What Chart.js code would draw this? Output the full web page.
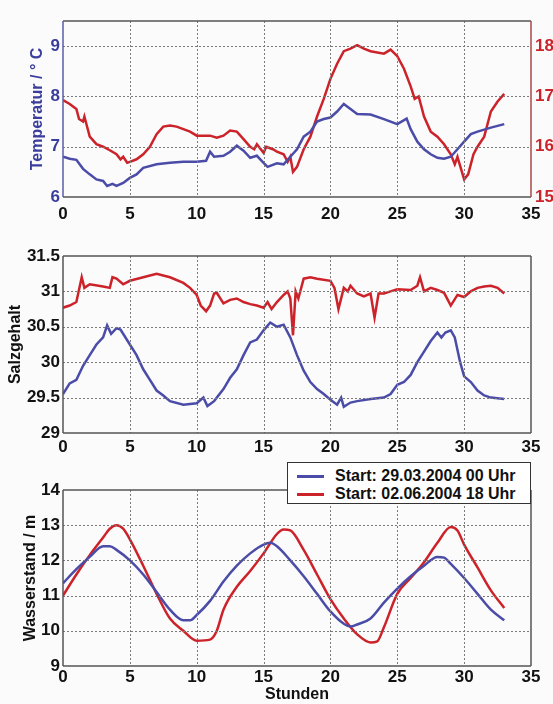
<!DOCTYPE html>
<html>
<head>
<meta charset="utf-8">
<script src="https://cdn.jsdelivr.net/npm/chart.js@4.4.0/dist/chart.umd.min.js"></script>
<style>
  body { margin: 0; background: #fbfbfb; width: 553px; height: 704px; position: relative; overflow: hidden; font-family: "Liberation Sans", Arial, sans-serif; }
  canvas { position: absolute; left: 0; }
  #legend { position: absolute; left: 287px; top: 462px; width: 242px; height: 40px; border: 1px solid #333; background: #fff; font-weight: bold; font-size: 16px; color: #111; }
  #legend .row { position: absolute; left: 0; height: 18px; line-height: 18px; white-space: nowrap; }
  #legend .swatch { position: absolute; left: 9px; top: 8px; width: 27px; height: 2.5px; }
  #legend .txt { position: absolute; left: 47px; top: 0; }
</style>
</head>
<body>
<canvas id="temp" width="553" height="230" style="top:0"></canvas>
<canvas id="salt" width="553" height="220" style="top:240px"></canvas>
<canvas id="water" width="553" height="244" style="top:460px"></canvas>
<div id="legend"></div>
<script>
// series labels
const labels = ["Start: 29.03.2004 00 Uhr", "Start: 02.06.2004 18 Uhr"];
const blue = "#4a4ca8";
const red = "#cc2229";

// tick values
const hourTicks = [0, 5, 10, 15, 20, 25, 30, 35];
const tempTicks = [6, 7, 8, 9];
const tempTicks2 = [15, 16, 17, 18];
const saltTicks = [29, 29.5, 30, 30.5, 31, 31.5];
const waterTicks = [9, 10, 11, 12, 13, 14];

// [hour, value]
const tempBlue = [[0,6.8],[0.5,6.76],[1,6.74],[1.5,6.56],[2,6.45],[2.5,6.35],[3,6.32],[3.3,6.22],[3.7,6.26],[4,6.22],[4.5,6.28],[5,6.38],[5.5,6.45],[6,6.58],[7,6.65],[8,6.68],[9,6.7],[10,6.7],[10.7,6.72],[11,6.9],[11.3,6.8],[12,6.82],[12.5,6.9],[13,7.02],[13.5,6.92],[14,6.78],[14.5,6.82],[15,6.68],[15.3,6.6],[16,6.67],[16.5,6.65],[17,6.8],[17.5,6.95],[18,7.2],[18.5,7.3],[19,7.5],[19.5,7.55],[20,7.58],[20.5,7.7],[21,7.85],[21.5,7.75],[22,7.65],[23,7.64],[24,7.55],[25,7.45],[25.7,7.56],[26,7.35],[26.5,7.1],[27,6.95],[27.5,6.85],[28,6.78],[28.5,6.76],[29,6.8],[29.5,6.95],[30,7.1],[30.5,7.25],[31,7.3],[32,7.38],[33,7.45]];
const tempRed = [[0,16.93],[0.5,16.85],[1,16.75],[1.2,16.55],[1.5,16.5],[1.6,16.6],[2,16.2],[2.5,16.05],[3,16.0],[3.5,15.93],[4,15.85],[4.3,15.75],[4.5,15.8],[4.8,15.68],[5,15.7],[5.5,15.75],[6,15.85],[6.5,16.0],[7,16.25],[7.5,16.4],[8,16.42],[8.5,16.4],[9,16.35],[9.5,16.3],[10,16.22],[11,16.22],[11.5,16.18],[12,16.22],[12.5,16.32],[13,16.3],[13.5,16.15],[14,16.0],[14.3,15.95],[14.5,16.05],[15,15.88],[15.2,16.0],[15.7,15.95],[16,15.9],[16.5,15.85],[16.8,15.7],[17,15.8],[17.2,15.5],[17.5,15.6],[18,15.95],[18.5,16.2],[19,16.6],[19.5,16.95],[20,17.35],[20.5,17.65],[21,17.9],[21.5,17.95],[22,18.02],[22.5,17.95],[23,17.9],[24,17.85],[24.5,17.93],[25,17.8],[25.5,17.55],[26,17.2],[26.3,16.95],[26.6,17.0],[27,16.6],[27.5,16.3],[28,16.2],[28.5,16.05],[29,15.85],[29.3,15.65],[29.5,15.8],[30,15.35],[30.3,15.45],[30.7,15.85],[31,16.0],[31.5,16.2],[32,16.7],[32.5,16.9],[33,17.05]];

const saltBlue = [[0,29.55],[0.5,29.7],[1,29.75],[1.5,29.95],[2,30.1],[2.5,30.25],[3,30.35],[3.3,30.52],[3.6,30.4],[4,30.48],[4.3,30.46],[5,30.25],[5.5,30.1],[6,29.9],[6.5,29.75],[7,29.6],[7.5,29.53],[8,29.45],[9,29.4],[10,29.42],[10.5,29.5],[10.8,29.38],[11.3,29.45],[12,29.62],[12.5,29.78],[13,29.9],[13.5,30.1],[14,30.28],[14.5,30.32],[15,30.45],[15.5,30.56],[16,30.5],[16.5,30.53],[17,30.35],[17.5,30.1],[18,29.88],[18.5,29.72],[19,29.62],[19.5,29.55],[20,29.47],[20.5,29.4],[20.8,29.5],[21,29.37],[21.5,29.43],[22,29.45],[23,29.48],[24,29.5],[24.5,29.55],[25,29.68],[25.5,29.72],[26,29.82],[26.5,30.0],[27,30.15],[27.5,30.3],[28,30.42],[28.3,30.35],[28.6,30.42],[29,30.45],[29.3,30.35],[29.7,30.0],[30,29.8],[30.5,29.72],[31,29.6],[31.5,29.53],[32,29.5],[33,29.48]];
const saltRed = [[0,30.77],[0.5,30.8],[1,30.85],[1.4,31.2],[1.6,31.05],[2,31.1],[3,31.07],[3.5,31.05],[3.7,31.2],[4,31.18],[4.5,31.1],[5,31.15],[6,31.2],[7,31.25],[8,31.2],[9,31.12],[9.5,31.05],[10,30.95],[10.3,30.8],[10.7,30.72],[11,30.8],[11.3,30.97],[11.5,30.98],[12,30.83],[12.5,30.88],[13,30.9],[13.5,30.85],[14,30.82],[14.5,30.8],[15,30.77],[15.3,30.85],[15.6,30.75],[16,30.85],[16.5,30.95],[16.8,31.0],[17,30.9],[17.2,30.38],[17.4,31.0],[17.6,30.9],[18,31.18],[18.5,31.2],[19,31.18],[20,31.15],[20.3,31.05],[20.6,30.75],[21,31.05],[21.3,31.0],[21.5,31.08],[22,30.97],[22.5,30.93],[23,30.97],[23.3,30.63],[23.6,30.97],[24,30.97],[24.5,31.0],[25,31.03],[26,31.02],[26.5,31.08],[26.7,31.2],[27,31.0],[27.5,31.05],[28,31.02],[28.5,30.98],[29,30.8],[29.5,30.95],[30,30.92],[30.5,31.0],[31,31.05],[31.5,31.07],[32,31.08],[32.5,31.05],[33,30.97]];

const waterBlue = [[0,11.35],[1,11.75],[2,12.1],[3,12.4],[3.5,12.4],[4,12.3],[5,12.0],[6,11.6],[7,11.1],[8,10.6],[9,10.3],[9.5,10.3],[10,10.45],[11,10.85],[12,11.4],[13,11.85],[14,12.2],[15,12.45],[15.5,12.5],[16,12.4],[17,12.0],[18,11.55],[19,11.05],[20,10.55],[21,10.2],[21.5,10.12],[22,10.18],[23,10.35],[24,10.8],[25,11.2],[26,11.55],[27,11.85],[28,12.1],[28.5,12.08],[29,11.9],[30,11.5],[31,11.05],[32,10.6],[33,10.3]];
const waterRed = [[0,11.0],[1,11.6],[2,12.15],[3,12.65],[3.5,12.9],[4,13.0],[4.5,12.9],[5,12.6],[6,11.85],[7,11.05],[8,10.35],[9,10.0],[10,9.72],[11,9.75],[11.5,10.0],[12,10.6],[13,11.25],[14,11.7],[15,12.2],[16,12.75],[16.5,12.88],[17,12.85],[18,12.3],[19,11.6],[20,10.9],[21,10.35],[22,9.9],[23,9.67],[23.5,9.7],[24,10.1],[25,11.05],[26,11.5],[27,11.95],[28,12.5],[29,12.95],[29.5,12.85],[30,12.45],[31,11.8],[32,11.15],[33,10.65]];

const font = { family: "'Liberation Sans', Arial, sans-serif", weight: "bold" };

// dotted grid at the scale ticks
function drawGrid(chart) {
  const { ctx, chartArea: a, scales } = chart;
  ctx.save();
  ctx.strokeStyle = "#7a7a7a";
  ctx.lineWidth = 1;
  ctx.setLineDash([2, 2]);
  scales.x.ticks.forEach(t => {
    const px = Math.round(scales.x.getPixelForValue(t.value)) + 0.5;
    if (px <= a.left + 1 || px >= a.right - 1) return;
    ctx.beginPath(); ctx.moveTo(px, a.top); ctx.lineTo(px, a.bottom); ctx.stroke();
  });
  scales.y.ticks.forEach(t => {
    const py = Math.round(scales.y.getPixelForValue(t.value)) + 0.5;
    if (py <= a.top + 1 || py >= a.bottom - 1) return;
    ctx.beginPath(); ctx.moveTo(a.left, py); ctx.lineTo(a.right, py); ctx.stroke();
  });
  ctx.restore();
}

// grid + box around the plot area
const frame = {
  id: "frame",
  afterDraw(chart, args, o) {
    drawGrid(chart);
    const { ctx, chartArea: a } = chart;
    const seg = (x1, y1, x2, y2, c) => {
      ctx.strokeStyle = c;
      ctx.beginPath(); ctx.moveTo(x1, y1); ctx.lineTo(x2, y2); ctx.stroke();
    };
    ctx.save();
    ctx.lineWidth = 1.5;
    seg(a.left, a.top, a.right, a.top, "#555");
    seg(a.left, a.bottom, a.right, a.bottom, "#555");
    seg(a.left, a.top, a.left, a.bottom, o.left || "#555");
    seg(a.right, a.top, a.right, a.bottom, o.right || "#555");
    ctx.restore();
  }
};

function pts(arr) {
  return arr.map(p => ({ x: p[0], y: p[1] }));
}

function series(label, color, arr, extra) {
  return Object.assign({
    label: label,
    data: pts(arr),
    borderColor: color,
    borderWidth: 2.5,
    pointRadius: 0,
    fill: false
  }, extra || {});
}

function xScale(height, pad, withTitle) {
  return {
    type: "linear", min: 0, max: 35,
    afterBuildTicks: s => { s.ticks = hourTicks.map(v => ({ value: v })); },
    afterFit: s => { s.height = height; },
    ticks: { color: "#111", font: Object.assign({ size: 17 }, font), padding: pad, maxRotation: 0, callback: v => String(v) },
    grid: { display: false, drawTicks: false },
    border: { display: false },
    title: { display: withTitle, text: "Stunden", color: "#111", font: Object.assign({ size: 16 }, font), padding: { top: 0, bottom: 0 } }
  };
}

function yScale(ticks, min, max, title, color, titlePad) {
  return {
    type: "linear", position: "left", min: min, max: max,
    afterBuildTicks: s => { s.ticks = ticks.map(v => ({ value: v })); },
    afterFit: s => { s.width = 63; },
    ticks: { color: color, font: Object.assign({ size: 17 }, font), padding: 3, callback: v => String(v) },
    grid: { display: false, drawTicks: false },
    border: { display: false },
    title: { display: true, text: title, color: color, font: Object.assign({ size: 16 }, font), padding: { top: titlePad, bottom: 0 } }
  };
}

function baseOptions(scales, padTop, padRight, frameOpts) {
  return {
    responsive: false,
    animation: false,
    layout: { padding: { top: padTop, right: padRight, left: 0, bottom: 0 } },
    plugins: { legend: { display: false }, tooltip: { enabled: false }, frame: frameOpts || {} },
    scales: scales
  };
}

// Temperatur
const t2 = {
  type: "linear", position: "right", min: 15, max: 18.5,
  afterBuildTicks: s => { s.ticks = tempTicks2.map(v => ({ value: v })); },
  afterFit: s => { s.width = 22; },
  ticks: { color: red, font: Object.assign({ size: 17 }, font), padding: 4, callback: v => String(v) },
  grid: { display: false, drawTicks: false },
  border: { display: false }
};
new Chart(document.getElementById("temp"), {
  type: "line",
  data: { datasets: [
    series(labels[0], blue, tempBlue, { yAxisID: "y" }),
    series(labels[1], red, tempRed, { yAxisID: "y2" })
  ] },
  options: baseOptions({
    x: xScale(33, 7, false),
    y: yScale(tempTicks, 6, 9.5, "Temperatur / \u00B0 C", "#3a3d9c", 28),
    y2: t2
  }, 21, 0, { left: "#5a5da8", right: "#a84848" }),
  plugins: [frame]
});

// Salzgehalt
new Chart(document.getElementById("salt"), {
  type: "line",
  data: { datasets: [
    series(labels[0], blue, saltBlue),
    series(labels[1], red, saltRed)
  ] },
  options: baseOptions({
    x: xScale(27, 4, false),
    y: yScale(saltTicks, 29, 31.5, "Salzgehalt", "#111", 6)
  }, 16, 22),
  plugins: [frame]
});

// Wasserstand
new Chart(document.getElementById("water"), {
  type: "line",
  data: { datasets: [
    series(labels[0], blue, waterBlue, { cubicInterpolationMode: "monotone" }),
    series(labels[1], red, waterRed, { cubicInterpolationMode: "monotone" })
  ] },
  options: baseOptions({
    x: xScale(38, 1, true),
    y: yScale(waterTicks, 9, 14, "Wasserstand / m", "#111", 21)
  }, 30, 22),
  plugins: [frame]
});

// legend
const legend = document.getElementById("legend");
[blue, red].forEach((c, i) => {
  const row = document.createElement("div");
  row.className = "row";
  row.style.top = (4 + i * 18) + "px";
  row.innerHTML = '<span class="swatch" style="background:' + c + '"></span><span class="txt">' + labels[i] + '</span>';
  legend.appendChild(row);
});
</script>
</body>
</html>
